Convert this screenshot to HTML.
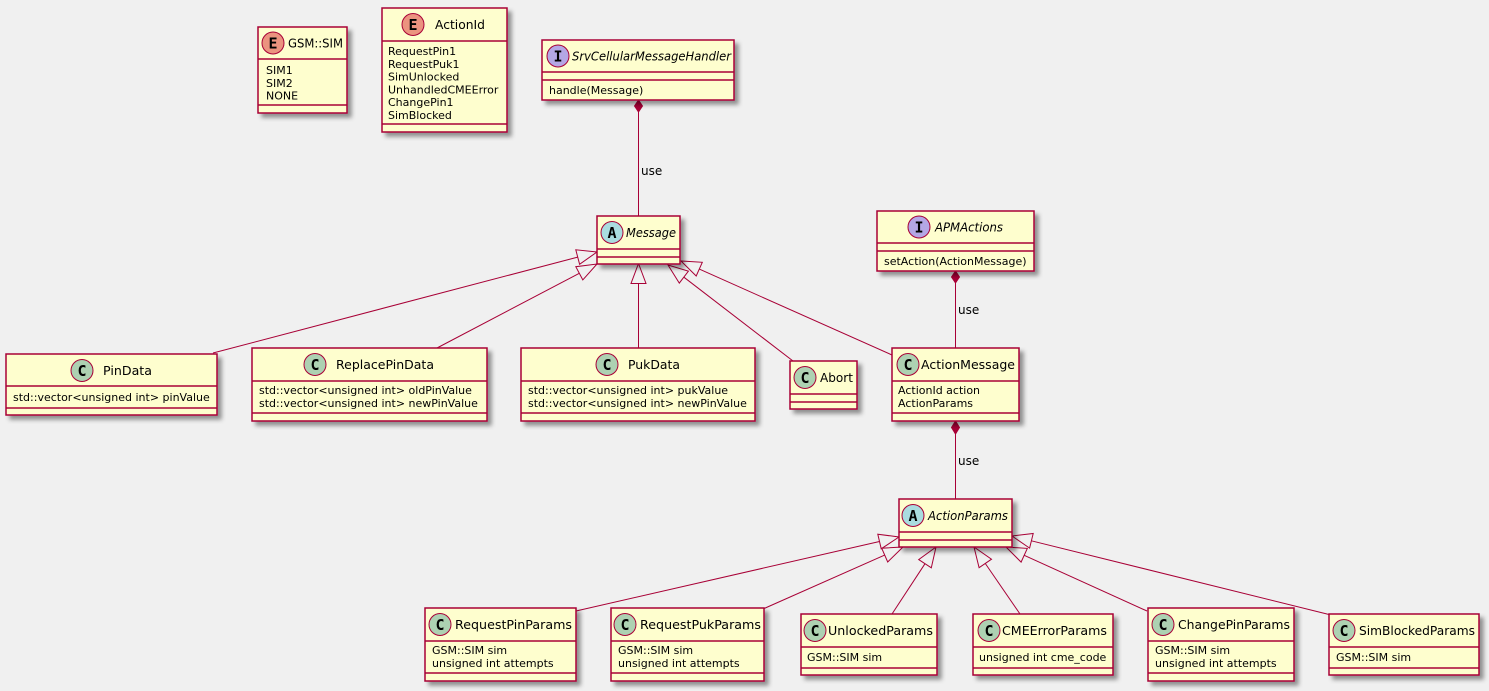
<!DOCTYPE html>
<html><head><meta charset="utf-8">
<style>
html,body{margin:0;padding:0;background:#F0F0F0;width:1489px;height:691px;overflow:hidden}
svg{display:block}
text{font-family:"DejaVu Sans","Liberation Sans",sans-serif;fill:#000}
.n{font-size:12.5px}
.it{font-size:12px;font-style:italic}
.a{font-size:11px}
.u{font-size:12px}
.L{font-size:15px;font-weight:bold;text-anchor:middle;font-family:"DejaVu Sans Mono","Liberation Mono",monospace}
.box{fill:#FEFECE;stroke:#A80036;stroke-width:1.5;filter:url(#sh)}
.sep{stroke:#A80036;stroke-width:1.5}
.ci{stroke:#A80036;stroke-width:1}
.e{stroke:#A80036;stroke-width:1;fill:none}
.tri{fill:none;stroke:#A80036;stroke-width:1}
.dia{fill:#A80036;stroke:#A80036;stroke-width:1}
</style></head>
<body>
<svg width="1489" height="691" viewBox="0 0 1489 691" xmlns="http://www.w3.org/2000/svg">
<defs>
<filter id="sh" x="-20%" y="-20%" width="150%" height="160%">
<feGaussianBlur in="SourceAlpha" stdDeviation="2"/>
<feColorMatrix type="matrix" values="0 0 0 0 0  0 0 0 0 0  0 0 0 0 0  0 0 0 .4 0" result="b"/>
<feOffset dx="4" dy="4" result="o"/>
<feMerge><feMergeNode in="o"/><feMergeNode in="SourceGraphic"/></feMerge>
</filter>
</defs>
<rect width="1489" height="691" fill="#F0F0F0"/>

<!-- ===== Edges ===== -->
<line class="e" x1="638.5" y1="112" x2="638.5" y2="216"/>
<polygon class="dia" points="638.5,100 634.5,106 638.5,112 642.5,106"/>
<text class="u" x="641" y="175">use</text>

<line class="e" x1="955.5" y1="283" x2="955.5" y2="348"/>
<polygon class="dia" points="955.5,271 951.5,277 955.5,283 959.5,277"/>
<text class="u" x="958" y="314">use</text>

<line class="e" x1="955.5" y1="434" x2="955.5" y2="499"/>
<polygon class="dia" points="955.5,421 951.5,427.5 955.5,434 959.5,427.5"/>
<text class="u" x="958" y="465">use</text>

<line class="e" x1="213" y1="353" x2="577.7" y2="257.1"/>
<polygon class="tri" points="597,252 579.6,264.3 575.8,249.8"/>
<line class="e" x1="437" y1="348" x2="579.3" y2="273.3"/>
<polygon class="tri" points="597,264 582.8,279.9 575.8,266.7"/>
<line class="e" x1="638.5" y1="348" x2="638.5" y2="283.5"/>
<polygon class="tri" points="638.5,263.5 631,283.5 646,283.5"/>
<line class="e" x1="793" y1="361" x2="683.9" y2="277.2"/>
<polygon class="tri" points="668,265 679.3,283.1 688.4,271.2"/>
<line class="e" x1="892" y1="355" x2="699.3" y2="269.1"/>
<polygon class="tri" points="681,261 696.2,276 702.3,262.3"/>

<line class="e" x1="576" y1="611" x2="879.5" y2="541.5"/>
<polygon class="tri" points="899,537 881.2,548.8 877.8,534.2"/>
<line class="e" x1="763" y1="609" x2="884.7" y2="555.1"/>
<polygon class="tri" points="903,547 887.7,562 881.7,548.2"/>
<line class="e" x1="892" y1="614" x2="925" y2="563.7"/>
<polygon class="tri" points="936,547 931.3,567.8 918.7,559.6"/>
<line class="e" x1="1020" y1="614" x2="985.3" y2="563.5"/>
<polygon class="tri" points="974,547 991.5,559.2 979.1,567.7"/>
<line class="e" x1="1147" y1="611" x2="1024.2" y2="555.3"/>
<polygon class="tri" points="1006,547 1027.3,548.4 1021.1,562.1"/>
<line class="e" x1="1331" y1="615" x2="1031.4" y2="540.8"/>
<polygon class="tri" points="1012,536 1033.2,533.5 1029.6,548.1"/>

<!-- ===== Nodes ===== -->
<rect class="box" x="258" y="27" width="89" height="86"/>
<circle class="ci" cx="273" cy="43" r="11" fill="#EB937F"/>
<text class="L" x="273" y="48.5">E</text>
<text class="n" x="288" y="47.5" textLength="55" lengthAdjust="spacingAndGlyphs">GSM::SIM</text>
<line class="sep" x1="258" y1="59" x2="347" y2="59"/>
<text class="a" x="266" y="74">SIM1</text>
<text class="a" x="266" y="86.8">SIM2</text>
<text class="a" x="266" y="99.6">NONE</text>
<line class="sep" x1="258" y1="105" x2="347" y2="105"/>

<rect class="box" x="382" y="8" width="125" height="124"/>
<circle class="ci" cx="413" cy="24.5" r="11" fill="#EB937F"/>
<text class="L" x="413" y="30">E</text>
<text class="n" x="435" y="29" textLength="50" lengthAdjust="spacingAndGlyphs">ActionId</text>
<line class="sep" x1="382" y1="41" x2="507" y2="41"/>
<text class="a" x="388" y="55">RequestPin1</text>
<text class="a" x="388" y="67.8">RequestPuk1</text>
<text class="a" x="388" y="80.6">SimUnlocked</text>
<text class="a" x="388" y="93.4">UnhandledCMEError</text>
<text class="a" x="388" y="106.2">ChangePin1</text>
<text class="a" x="388" y="119">SimBlocked</text>
<line class="sep" x1="382" y1="124" x2="507" y2="124"/>

<rect class="box" x="542" y="40" width="192" height="60"/>
<circle class="ci" cx="558" cy="56" r="11" fill="#B4A7E5"/>
<text class="L" x="558" y="61.5">I</text>
<text class="it" x="572" y="60.5" textLength="159" lengthAdjust="spacingAndGlyphs">SrvCellularMessageHandler</text>
<line class="sep" x1="542" y1="72" x2="734" y2="72"/>
<line class="sep" x1="542" y1="80" x2="734" y2="80"/>
<text class="a" x="549" y="94">handle(Message)</text>

<rect class="box" x="597" y="216" width="83" height="48"/>
<circle class="ci" cx="612" cy="232.5" r="11" fill="#A9DCDF"/>
<text class="L" x="612" y="238">A</text>
<text class="it" x="626" y="237" textLength="50" lengthAdjust="spacingAndGlyphs">Message</text>
<line class="sep" x1="597" y1="249" x2="680" y2="249"/>
<line class="sep" x1="597" y1="257" x2="680" y2="257"/>

<rect class="box" x="877" y="211" width="157" height="60"/>
<circle class="ci" cx="919" cy="227" r="11" fill="#B4A7E5"/>
<text class="L" x="919" y="232.5">I</text>
<text class="it" x="935" y="231.5" textLength="68" lengthAdjust="spacingAndGlyphs">APMActions</text>
<line class="sep" x1="877" y1="243" x2="1034" y2="243"/>
<line class="sep" x1="877" y1="251" x2="1034" y2="251"/>
<text class="a" x="884" y="265">setAction(ActionMessage)</text>

<rect class="box" x="6" y="354" width="211" height="61"/>
<circle class="ci" cx="82" cy="370.5" r="11" fill="#ADD1B2"/>
<text class="L" x="82" y="376">C</text>
<text class="n" x="103" y="375" textLength="49" lengthAdjust="spacingAndGlyphs">PinData</text>
<line class="sep" x1="6" y1="386" x2="217" y2="386"/>
<text class="a" x="13" y="401">std::vector&lt;unsigned int&gt; pinValue</text>
<line class="sep" x1="6" y1="408" x2="217" y2="408"/>

<rect class="box" x="252" y="348" width="235" height="73"/>
<circle class="ci" cx="315" cy="364.5" r="11" fill="#ADD1B2"/>
<text class="L" x="315" y="370">C</text>
<text class="n" x="336" y="369" textLength="98" lengthAdjust="spacingAndGlyphs">ReplacePinData</text>
<line class="sep" x1="252" y1="381" x2="487" y2="381"/>
<text class="a" x="259" y="394">std::vector&lt;unsigned int&gt; oldPinValue</text>
<text class="a" x="259" y="407">std::vector&lt;unsigned int&gt; newPinValue</text>
<line class="sep" x1="252" y1="413" x2="487" y2="413"/>

<rect class="box" x="521" y="348" width="234" height="73"/>
<circle class="ci" cx="607" cy="364.5" r="11" fill="#ADD1B2"/>
<text class="L" x="607" y="370">C</text>
<text class="n" x="628" y="369" textLength="52" lengthAdjust="spacingAndGlyphs">PukData</text>
<line class="sep" x1="521" y1="381" x2="755" y2="381"/>
<text class="a" x="528" y="394">std::vector&lt;unsigned int&gt; pukValue</text>
<text class="a" x="528" y="407">std::vector&lt;unsigned int&gt; newPinValue</text>
<line class="sep" x1="521" y1="413" x2="755" y2="413"/>

<rect class="box" x="790" y="361" width="67" height="48"/>
<circle class="ci" cx="805" cy="377.5" r="11" fill="#ADD1B2"/>
<text class="L" x="805" y="383">C</text>
<text class="n" x="820" y="382" textLength="33" lengthAdjust="spacingAndGlyphs">Abort</text>
<line class="sep" x1="790" y1="394" x2="857" y2="394"/>
<line class="sep" x1="790" y1="402" x2="857" y2="402"/>

<rect class="box" x="892" y="348" width="127" height="73"/>
<circle class="ci" cx="908" cy="364.5" r="11" fill="#ADD1B2"/>
<text class="L" x="908" y="370">C</text>
<text class="n" x="921" y="369" textLength="94" lengthAdjust="spacingAndGlyphs">ActionMessage</text>
<line class="sep" x1="892" y1="381" x2="1019" y2="381"/>
<text class="a" x="898" y="394">ActionId action</text>
<text class="a" x="898" y="407">ActionParams</text>
<line class="sep" x1="892" y1="413" x2="1019" y2="413"/>

<rect class="box" x="899" y="499" width="113" height="48"/>
<circle class="ci" cx="913" cy="515.5" r="11" fill="#A9DCDF"/>
<text class="L" x="913" y="521">A</text>
<text class="it" x="928" y="520" textLength="80" lengthAdjust="spacingAndGlyphs">ActionParams</text>
<line class="sep" x1="899" y1="532" x2="1012" y2="532"/>
<line class="sep" x1="899" y1="540" x2="1012" y2="540"/>

<rect class="box" x="425" y="608" width="151" height="73"/>
<circle class="ci" cx="440" cy="624.5" r="11" fill="#ADD1B2"/>
<text class="L" x="440" y="630">C</text>
<text class="n" x="455" y="629" textLength="117" lengthAdjust="spacingAndGlyphs">RequestPinParams</text>
<line class="sep" x1="425" y1="641" x2="576" y2="641"/>
<text class="a" x="432" y="654">GSM::SIM sim</text>
<text class="a" x="432" y="667">unsigned int attempts</text>
<line class="sep" x1="425" y1="673" x2="576" y2="673"/>

<rect class="box" x="611" y="608" width="153" height="73"/>
<circle class="ci" cx="625" cy="624.5" r="11" fill="#ADD1B2"/>
<text class="L" x="625" y="630">C</text>
<text class="n" x="640" y="629" textLength="121" lengthAdjust="spacingAndGlyphs">RequestPukParams</text>
<line class="sep" x1="611" y1="641" x2="764" y2="641"/>
<text class="a" x="618" y="654">GSM::SIM sim</text>
<text class="a" x="618" y="667">unsigned int attempts</text>
<line class="sep" x1="611" y1="673" x2="764" y2="673"/>

<rect class="box" x="801" y="614" width="136" height="61"/>
<circle class="ci" cx="815" cy="630.5" r="11" fill="#ADD1B2"/>
<text class="L" x="815" y="636">C</text>
<text class="n" x="828" y="635" textLength="105" lengthAdjust="spacingAndGlyphs">UnlockedParams</text>
<line class="sep" x1="801" y1="647" x2="937" y2="647"/>
<text class="a" x="807" y="661">GSM::SIM sim</text>
<line class="sep" x1="801" y1="668" x2="937" y2="668"/>

<rect class="box" x="973" y="614" width="140" height="61"/>
<circle class="ci" cx="989" cy="630.5" r="11" fill="#ADD1B2"/>
<text class="L" x="989" y="636">C</text>
<text class="n" x="1002" y="635" textLength="105" lengthAdjust="spacingAndGlyphs">CMEErrorParams</text>
<line class="sep" x1="973" y1="647" x2="1113" y2="647"/>
<text class="a" x="979" y="661">unsigned int cme_code</text>
<line class="sep" x1="973" y1="668" x2="1113" y2="668"/>

<rect class="box" x="1148" y="608" width="146" height="73"/>
<circle class="ci" cx="1163" cy="624.5" r="11" fill="#ADD1B2"/>
<text class="L" x="1163" y="630">C</text>
<text class="n" x="1178" y="629" textLength="112" lengthAdjust="spacingAndGlyphs">ChangePinParams</text>
<line class="sep" x1="1148" y1="641" x2="1294" y2="641"/>
<text class="a" x="1155" y="654">GSM::SIM sim</text>
<text class="a" x="1155" y="667">unsigned int attempts</text>
<line class="sep" x1="1148" y1="673" x2="1294" y2="673"/>

<rect class="box" x="1329" y="614" width="150" height="61"/>
<circle class="ci" cx="1344" cy="630.5" r="11" fill="#ADD1B2"/>
<text class="L" x="1344" y="636">C</text>
<text class="n" x="1359" y="635" textLength="116" lengthAdjust="spacingAndGlyphs">SimBlockedParams</text>
<line class="sep" x1="1329" y1="647" x2="1479" y2="647"/>
<text class="a" x="1336" y="661">GSM::SIM sim</text>
<line class="sep" x1="1329" y1="668" x2="1479" y2="668"/>
</svg>
</body></html>
